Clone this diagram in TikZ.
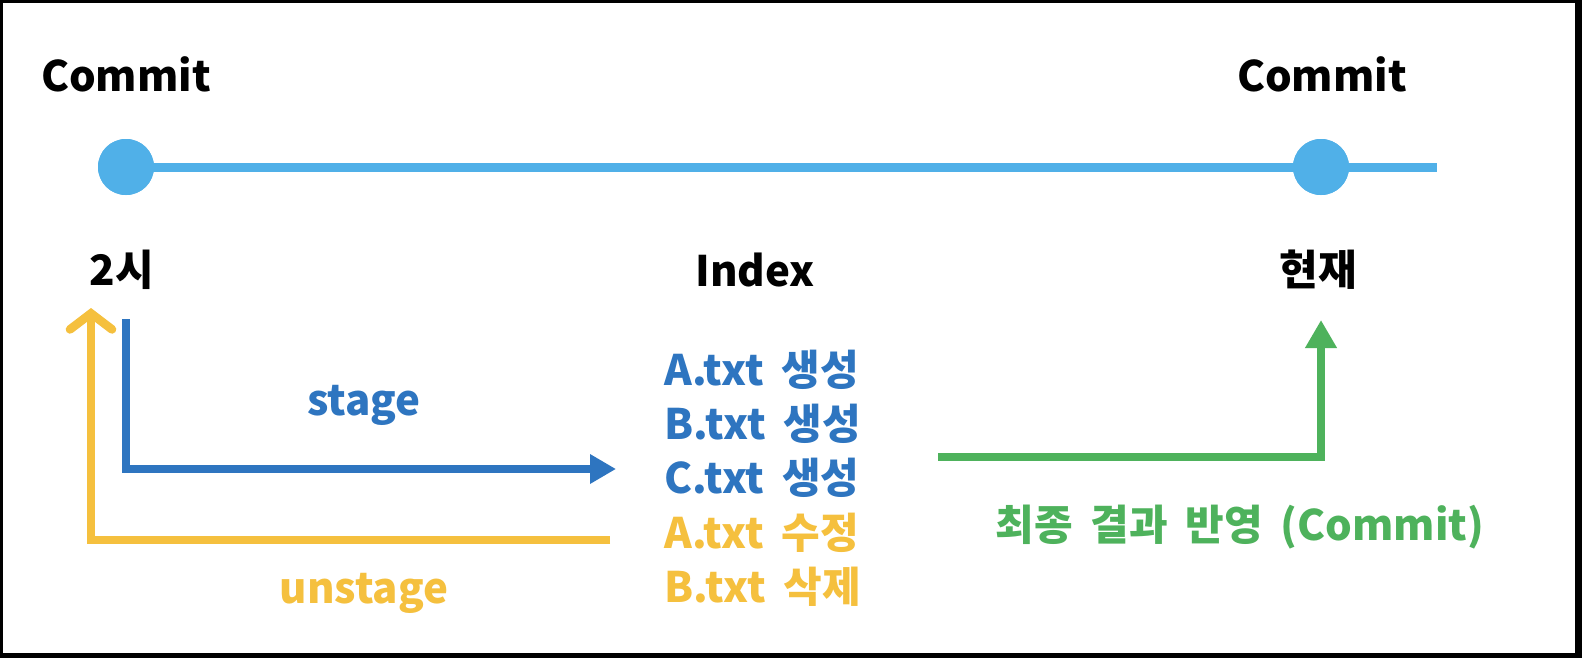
\documentclass[tikz,border=0pt]{standalone}
\usepackage{fontspec}
\setmainfont{Noto Sans CJK KR}
\usetikzlibrary{arrows.meta}
\definecolor{lineblue}{RGB}{80,176,232}
\definecolor{stageblue}{RGB}{46,117,192}
\definecolor{unyellow}{RGB}{245,192,62}
\definecolor{comgreen}{RGB}{78,178,92}
\newcommand\widesp{\spaceskip 0.42em\relax}
\tikzset{
  lbl/.style={inner sep=0pt, font=\fontsize{21}{25}\selectfont\bfseries\widesp},
  item/.style={lbl, anchor=west},
  conn/.style={line width=4.3pt, line join=miter},
  dot/.style={circle, fill=lineblue, inner sep=0pt, minimum size=28pt},
}
\begin{document}
\begin{tikzpicture}[x=0.5pt,y=-0.5pt]
\fill[black] (0,0) rectangle (1582,658);
\fill[white] (3,3) rectangle (1575,653);
\useasboundingbox (0,0) rectangle (1582,658);
% timeline
\coordinate (lend) at (1437,167);
\node[dot] (c1) at (126,167) {};
\node[dot] (c2) at (1321,167) {};
\draw[lineblue, line width=4.5pt] (c1.center) -- (c2.center) -- (lend);
\node[dot] at (c1) {};
\node[dot] at (c2) {};
% labels
\node[lbl] (commitL) at (126,74) {Commit};
\node[lbl] (commitR) at (1322,74) {Commit};
\node[lbl] (t2) at (122,270) {2시};
\node[lbl] (index) at (755,270) {Index};
\node[lbl] (now) at (1318,270) {현재};
% index list
\node[item, text=stageblue] (i1) at (664,370) {A.txt 생성};
\node[item, text=stageblue] (i2) at (664,424) {B.txt 생성};
\node[item, text=stageblue] (i3) at (664,478) {C.txt 생성};
\node[item, text=unyellow] (i4) at (664,533) {A.txt 수정};
\node[item, text=unyellow] (i5) at (664,587) {B.txt 삭제};
% stage arrow
\coordinate (bs) at (126,319);
\coordinate (bc) at (126,469);
\coordinate (be) at (616,469);
\draw[conn, stageblue, -{Triangle[length=13pt,width=14pt]}] (bs) -- (bc) -- (be);
\node[lbl, text=stageblue] (stage) at (364,405) {stage};
% unstage arrow
\coordinate (ys) at (610,540);
\coordinate (yc) at (91,540);
\coordinate (ye) at (91,308);
\draw[conn, unyellow, -{Straight Barb[length=8pt,width=21pt,line cap=round]}] (ys) -- (yc) -- (ye);
\node[lbl, text=unyellow] (unstage) at (364,593) {unstage};
% commit arrow
\coordinate (gs) at (938,457);
\coordinate (gc) at (1321,457);
\coordinate (ge) at (1321,320);
\draw[conn, comgreen, -{Triangle[length=14pt,width=15pt]}] (gs) -- (gc) -- (ge);
\node[lbl, text=comgreen] (final) at (1240,527) {최종 결과 반영 (Commit)};
\end{tikzpicture}
\end{document}
